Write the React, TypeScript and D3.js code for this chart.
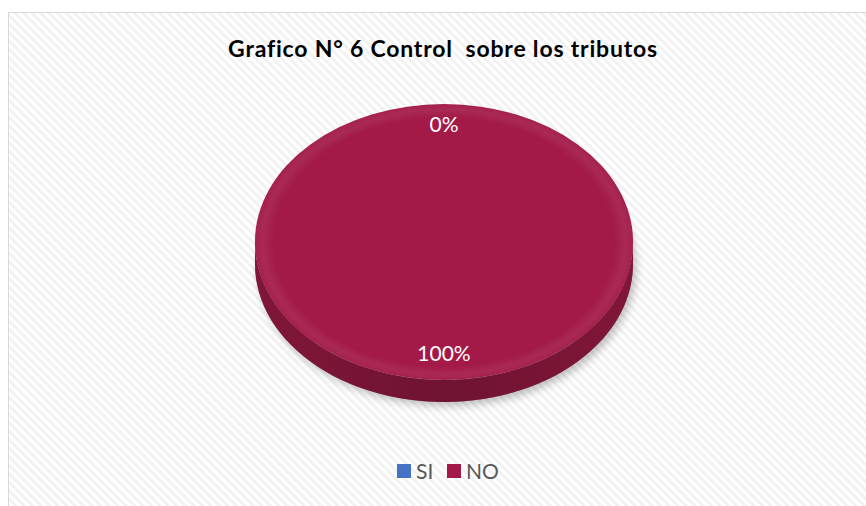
import React from "react";
import * as d3 from "d3";

const categories = ["SI", "NO"];
const values = [0, 100];
const labels = ["0%", "100%"];
const colors = ["#4472C4", "#A31A48"];
const title = "Grafico N° 6 Control  sobre los tributos";

const W = 866;
const H = 506;
const FONT = "Lato, 'Open Sans', sans-serif";

export default function App() {
  const cx = 444, cy = 242, rx = 189, ry = 138, depth = 22;
  const pie = d3.pie<number>().sort(null).value((d) => d)(values);
  const arc = d3.arc<any>().innerRadius(0).outerRadius(rx);
  const labelArc = d3.arc<any>().innerRadius(rx * 0.83).outerRadius(rx * 0.83);
  const sy = ry / rx;

  const pt = (a: number, dy = 0) => [rx * Math.sin(a), -ry * Math.cos(a) + dy];
  const wallPath = (a0: number, a1: number) => {
    const s = Math.max(a0, Math.PI / 2);
    const e = Math.min(a1, (3 * Math.PI) / 2);
    if (e <= s) return null;
    const n = 60;
    const top: number[][] = [];
    const bot: number[][] = [];
    for (let i = 0; i <= n; i++) {
      const a = s + ((e - s) * i) / n;
      top.push(pt(a));
      bot.push(pt(a, depth));
    }
    return d3.line()([...top, ...bot.reverse()]) + "Z";
  };

  const legendScale = d3.scaleOrdinal<string, number>().domain(categories).range([397, 447]);

  return (
    <svg width={W} height={H} style={{ position: "absolute", left: 0, top: 0 }}>
      <defs>
        <pattern id="stripes" width="6" height="6" patternUnits="userSpaceOnUse" patternTransform="rotate(-45)">
          <rect width="6" height="6" fill="#ffffff" />
          <rect width="3" height="6" fill="#f2f2f2" />
        </pattern>
        <linearGradient id="wall" x1="0" x2="1" y1="0" y2="0">
          <stop offset="0" stopColor="#8a1a3c" />
          <stop offset="0.5" stopColor="#6a1230" />
          <stop offset="1" stopColor="#8a1a3c" />
        </linearGradient>
        <radialGradient id="topShade" cx="0.5" cy="0.5" r="0.5">
          <stop offset="0.9" stopColor="#fff" stopOpacity="0" />
          <stop offset="0.96" stopColor="#fff" stopOpacity="0.07" />
          <stop offset="1" stopColor="#fff" stopOpacity="0.03" />
        </radialGradient>
        <filter id="shadow" x="-20%" y="-20%" width="140%" height="140%">
          <feGaussianBlur stdDeviation="4" />
        </filter>
      </defs>
      <rect x={8.5} y={12.5} width={W} height={H} fill="url(#stripes)" stroke="#d9d9d9" strokeWidth={1} />
      <text x={443} y={57} textAnchor="middle" fontFamily={FONT} fontWeight="bold" fontSize={23} letterSpacing={0.8} fill="#000" style={{ whiteSpace: "pre" }}>
        {title}
      </text>
      <ellipse cx={cx + 3} cy={cy + depth + 4} rx={rx} ry={ry} fill="#000" opacity={0.25} filter="url(#shadow)" />
      {pie.map((p, i) => {
        const d = wallPath(p.startAngle, p.endAngle);
        return d ? (
          <g key={"w" + i} transform={`translate(${cx},${cy})`}>
            <path d={d} fill={d3.color(colors[i])!.darker(0.9).toString()} />
            <path d={d} fill="url(#wall)" opacity={0.5} />
          </g>
        ) : null;
      })}
      <g transform={`translate(${cx},${cy}) scale(1,${sy})`}>
        {pie.map((p, i) => (
          <path key={"s" + i} d={arc(p) || ""} fill={colors[i]} />
        ))}
        <ellipse cx={0} cy={0} rx={rx} ry={rx} fill="url(#topShade)" />
      </g>
      {pie.map((p, i) => {
        const [lx, ly] = labelArc.centroid(p);
        return (
          <text key={"l" + i} x={cx + lx} y={cy + ly * sy - 3} dy="0.35em" textAnchor="middle" fontFamily={FONT} fontSize={21} fill="#fff">
            {labels[i]}
          </text>
        );
      })}
      {categories.map((c, i) => (
        <g key={"lg" + i} transform={`translate(${legendScale(c)},464)`}>
          <rect width={14} height={14} fill={colors[i]} />
          <text x={19} y={7} dy="0.36em" fontFamily={FONT} fontSize={21} fill="#595959">
            {c}
          </text>
        </g>
      ))}
    </svg>
  );
}
